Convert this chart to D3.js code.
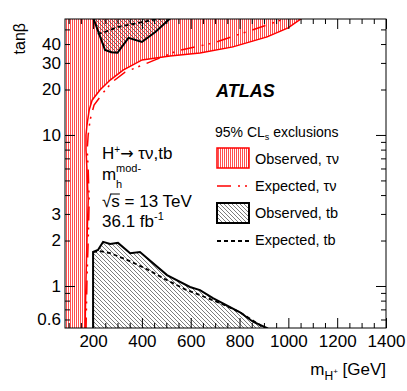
<html>
	<head>
		<title>ATLAS H+ exclusion</title>
		<script src="https://d3js.org/d3.v7.min.js"></script>
		<style>
			body { margin: 0; background: white; }
			text { font-family: "Liberation Sans", Arial, sans-serif; fill: black; }
		</style>
	</head>
	<body>
		<div id="container"></div>
<script>
// observed tau-nu exclusion boundary (excluded to the left / above)
var tauObsMass = [167, 171, 175, 180, 175, 171, 171, 175, 184, 196, 229, 270, 323, 401, 515, 638, 773, 913, 999, 1060];
var tauObsTanb = [0.5, 1.1, 2.0, 3.7, 5.9, 8.0, 10, 11.6, 14.6, 17.0, 19.9, 23.1, 26.9, 31.4, 33.3, 34.9, 38.3, 44.6, 51.2, 60];
// expected tau-nu
var tauExpMass = [171, 175, 180, 184, 180, 176, 180, 188, 204, 241, 278, 331, 392, 454, 544, 691, 814, 913, 1000];
var tauExpTanb = [0.5, 1.1, 2.0, 3.7, 5.9, 8.0, 10, 12.6, 15.8, 19.0, 22.4, 26.1, 28.6, 31.4, 36.0, 40.6, 47.3, 53.5, 60];
// observed tb, high tanb island
var tbHighObsMass = [200, 249, 275, 300, 345, 400, 455, 520];
var tbHighObsTanb = [60, 36.5, 35.3, 35.0, 44.0, 41.3, 48.0, 60];
// expected tb, high tanb
var tbHighExpMass = [219, 249, 302, 364, 425, 500];
var tbHighExpTanb = [46.7, 48.1, 51.9, 54.3, 56.9, 60];
// observed tb, low tanb
var tbLowObsMass = [200, 200, 220, 241, 270, 302, 352, 392, 503, 597, 638, 691, 802, 855, 913, 930];
var tbLowObsTanb = [0.5, 1.68, 1.73, 1.96, 1.90, 1.93, 1.65, 1.68, 1.18, 0.985, 0.94, 0.83, 0.67, 0.58, 0.527, 0.5];
// expected tb, low tanb
var tbLowExpMass = [200, 229, 270, 339, 413, 495, 577, 638, 720, 802, 884, 917];
var tbLowExpTanb = [1.68, 1.70, 1.65, 1.49, 1.31, 1.11, 0.95, 0.87, 0.77, 0.67, 0.55, 0.5];

var xMajor = [200, 400, 600, 800, 1000, 1200, 1400];
var yLabels = [0.6, 1, 2, 3, 10, 20, 30, 40];
var yMajor = [1, 10];
var yMinor = [0.6, 0.7, 0.8, 0.9, 2, 3, 4, 5, 6, 7, 8, 9, 20, 30, 40, 50];

var W = 407, H = 391;
var pL = 65, pR = 386, pT = 19, pB = 328;

var svg = d3.select("#container").append("svg")
	.attr("width", W)
	.attr("height", H);

var x = d3.scaleLinear().domain([85, 1400]).range([pL, pR]);
var y = d3.scaleLog().domain([0.527, 58.6]).range([pB, pT]);

var defs = svg.append("defs");
var redHatch = defs.append("pattern")
	.attr("id", "redHatch")
	.attr("patternUnits", "userSpaceOnUse")
	.attr("width", 2).attr("height", 4);
redHatch.append("rect")
	.attr("x", 0).attr("y", 0).attr("width", 1).attr("height", 4)
	.attr("fill", "#ff5050");

var blackHatch = defs.append("pattern")
	.attr("id", "blackHatch")
	.attr("patternUnits", "userSpaceOnUse")
	.attr("width", 4).attr("height", 4);
blackHatch.append("path")
	.attr("d", "M0,0 L4,4 M-1,3 L1,5 M3,-1 L5,1")
	.attr("stroke", "#444")
	.attr("stroke-width", 0.7);

defs.append("clipPath").attr("id", "plotClip")
	.append("rect")
	.attr("x", pL).attr("y", pT)
	.attr("width", pR - pL).attr("height", pB - pT);

function pts(ms, ts) {
	return ms.map(function(m, i) { return [m, ts[i]]; });
}

var line = d3.line()
	.x(function(d) { return x(d[0]); })
	.y(function(d) { return y(d[1]); });

var plot = svg.append("g").attr("clip-path", "url(#plotClip)");

// tau-nu observed region, closed along the left and top edge
var tauPoly = [[60, 0.5]].concat(pts(tauObsMass, tauObsTanb)).concat([[60, 60]]);
plot.append("path")
	.attr("d", line(tauPoly) + "Z")
	.attr("fill", "url(#redHatch)")
	.attr("stroke", "#ff0000")
	.attr("stroke-width", 1.5);

plot.append("path")
	.attr("d", line(pts(tauExpMass, tauExpTanb)))
	.attr("fill", "none")
	.attr("stroke", "#ff0000")
	.attr("stroke-width", 1.5)
	.attr("stroke-dasharray", "14,7,2,5,2,7");

// tb regions
plot.append("path")
	.attr("d", line(pts(tbHighObsMass, tbHighObsTanb)) + "Z")
	.attr("fill", "url(#blackHatch)")
	.attr("stroke", "black")
	.attr("stroke-width", 2);
plot.append("path")
	.attr("d", line(pts(tbHighExpMass, tbHighExpTanb)))
	.attr("fill", "none")
	.attr("stroke", "black")
	.attr("stroke-width", 1.8)
	.attr("stroke-dasharray", "4,3");

plot.append("path")
	.attr("d", line(pts(tbLowObsMass, tbLowObsTanb)) + "Z")
	.attr("fill", "url(#blackHatch)")
	.attr("stroke", "black")
	.attr("stroke-width", 2);
plot.append("path")
	.attr("d", line(pts(tbLowExpMass, tbLowExpTanb)))
	.attr("fill", "none")
	.attr("stroke", "black")
	.attr("stroke-width", 1.8)
	.attr("stroke-dasharray", "4,3");

// axes, ROOT style ticks pointing inwards
var xMinor = d3.range(100, 1401, 50).filter(function(v) { return xMajor.indexOf(v) < 0; });

function styleAxis(g) {
	g.select(".domain").remove();
	g.selectAll("line").attr("stroke", "black");
	g.selectAll("text").style("font-size", "17px").attr("fill", "black");
}

svg.append("g").attr("transform", "translate(0," + pB + ")")
	.call(d3.axisBottom(x).tickValues(xMajor).tickSize(-10).tickPadding(7).tickFormat(d3.format("d")))
	.call(styleAxis);
svg.append("g").attr("transform", "translate(0," + pB + ")")
	.call(d3.axisBottom(x).tickValues(xMinor).tickSize(-5).tickFormat(""))
	.call(styleAxis);
svg.append("g").attr("transform", "translate(0," + pT + ")")
	.call(d3.axisTop(x).tickValues(xMajor).tickSize(-10).tickFormat(""))
	.call(styleAxis);
svg.append("g").attr("transform", "translate(0," + pT + ")")
	.call(d3.axisTop(x).tickValues(xMinor).tickSize(-5).tickFormat(""))
	.call(styleAxis);

svg.append("g").attr("transform", "translate(" + pL + ",0)")
	.call(d3.axisLeft(y).tickValues(yMajor).tickSize(-10).tickFormat(""))
	.call(styleAxis);
svg.append("g").attr("transform", "translate(" + pL + ",0)")
	.call(d3.axisLeft(y).tickValues(yMinor).tickSize(-5).tickFormat(""))
	.call(styleAxis);
svg.append("g").attr("transform", "translate(" + pL + ",0)")
	.call(d3.axisLeft(y).tickValues(yLabels).tickSize(0).tickPadding(4).tickFormat(function(d) { return String(d); }))
	.call(styleAxis);
svg.append("g").attr("transform", "translate(" + pR + ",0)")
	.call(d3.axisRight(y).tickValues(yMajor).tickSize(-10).tickFormat(""))
	.call(styleAxis);
svg.append("g").attr("transform", "translate(" + pR + ",0)")
	.call(d3.axisRight(y).tickValues(yMinor).tickSize(-5).tickFormat(""))
	.call(styleAxis);

svg.append("rect")
	.attr("x", pL).attr("y", pT)
	.attr("width", pR - pL).attr("height", pB - pT)
	.attr("fill", "none").attr("stroke", "black").attr("stroke-width", 1);

// axis titles
svg.append("text")
	.attr("transform", "translate(25," + (pT + 4) + ") rotate(-90)")
	.attr("text-anchor", "end")
	.style("font-size", "16px")
	.text("tanβ");

var xt = svg.append("text")
	.attr("x", pR).attr("y", 375)
	.attr("text-anchor", "end")
	.style("font-size", "17px");
xt.append("tspan").text("m");
xt.append("tspan").attr("dy", 5).style("font-size", "12px").text("H");
xt.append("tspan").attr("dy", -6).style("font-size", "8px").text("+");
xt.append("tspan").attr("dy", 1).text(" [GeV]");

// ATLAS label
svg.append("text")
	.attr("x", 216).attr("y", 97)
	.style("font-size", "18px")
	.style("font-weight", "bold")
	.style("font-style", "italic")
	.text("ATLAS");

// text block
var t1 = svg.append("text").attr("x", 102).attr("y", 159).style("font-size", "17px");
t1.append("tspan").text("H");
t1.append("tspan").attr("dy", -6).style("font-size", "10px").text("+");
t1.append("tspan").attr("dy", 6).style("font-family", "'DejaVu Sans'").style("font-size", "16px").text("→");
t1.append("tspan").text(" τν,tb");

svg.append("text").attr("x", 102).attr("y", 180).style("font-size", "17px").text("m");
svg.append("text").attr("x", 116).attr("y", 188).style("font-size", "11px").text("h");
svg.append("text").attr("x", 116).attr("y", 172).style("font-size", "11px").text("mod-");

var t3 = svg.append("text").attr("x", 102).attr("y", 207).style("font-size", "17px").text("√s = 13 TeV");
var rootW = t3.node().getSubStringLength(0, 1);
var sW = t3.node().getSubStringLength(1, 1);
svg.append("line")
	.attr("x1", 102 + rootW - 1).attr("x2", 102 + rootW + sW)
	.attr("y1", 194).attr("y2", 194)
	.attr("stroke", "black").attr("stroke-width", 1);

var t4 = svg.append("text").attr("x", 102).attr("y", 227).style("font-size", "17px");
t4.append("tspan").text("36.1 fb");
t4.append("tspan").attr("dy", -7).style("font-size", "11px").text("-1");

// legend
var lx = 217, lw = 32, tx = 255;
var lg = svg.append("text").attr("x", 215).attr("y", 137).style("font-size", "14px");
lg.append("tspan").text("95% CL");
lg.append("tspan").attr("dy", 3).style("font-size", "9px").text("s");
lg.append("tspan").attr("dy", -3).text(" exclusions");

svg.append("rect").attr("x", lx).attr("y", 148).attr("width", lw).attr("height", 20)
	.attr("fill", "url(#redHatch)").attr("stroke", "#ff0000").attr("stroke-width", 1.5);
svg.append("text").attr("x", tx).attr("y", 164).style("font-size", "14.5px").text("Observed, τν");

svg.append("line").attr("x1", lx).attr("x2", lx + lw).attr("y1", 186).attr("y2", 186)
	.attr("stroke", "#ff0000").attr("stroke-width", 1.5).attr("stroke-dasharray", "14,7,2,5,2,7");
svg.append("text").attr("x", tx).attr("y", 191).style("font-size", "14.5px").text("Expected, τν");

svg.append("rect").attr("x", lx).attr("y", 203).attr("width", lw).attr("height", 20)
	.attr("fill", "url(#blackHatch)").attr("stroke", "black").attr("stroke-width", 2);
svg.append("text").attr("x", tx).attr("y", 218).style("font-size", "14.5px").text("Observed, tb");

svg.append("line").attr("x1", lx).attr("x2", lx + lw).attr("y1", 241).attr("y2", 241)
	.attr("stroke", "black").attr("stroke-width", 1.8).attr("stroke-dasharray", "4,3");
svg.append("text").attr("x", tx).attr("y", 245).style("font-size", "14.5px").text("Expected, tb");
</script>
	</body>
</html>
